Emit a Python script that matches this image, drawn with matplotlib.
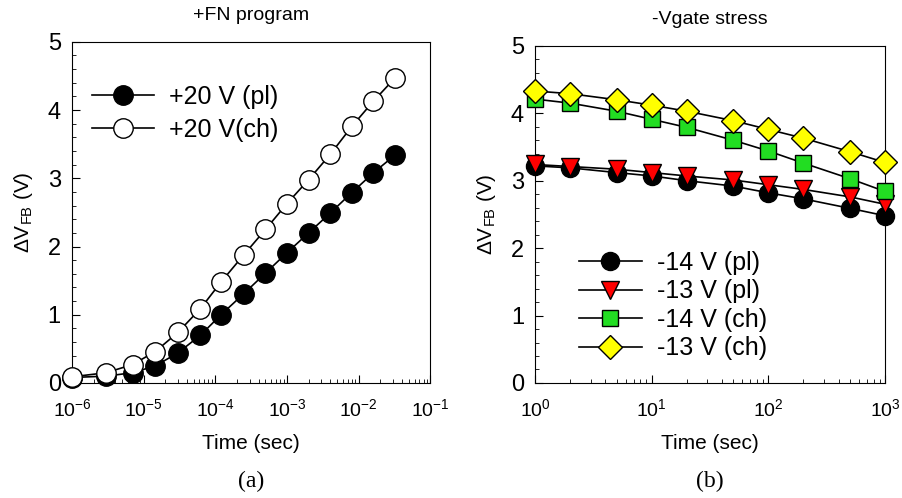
import matplotlib
matplotlib.use("Agg")
import matplotlib.pyplot as plt
from matplotlib.ticker import MultipleLocator, LogLocator, NullFormatter

plt.rcParams["font.family"] = ["Liberation Sans", "DejaVu Sans"]
plt.rcParams["mathtext.fontset"] = "custom"
plt.rcParams["mathtext.rm"] = "Liberation Sans"
plt.rcParams["mathtext.default"] = "regular"

# (a) +FN program
t_a = [1e-6, 3e-6, 7e-6, 1.45e-5, 3e-5, 6.2e-5, 1.2e-4, 2.5e-4, 5e-4, 1e-3,
       2e-3, 4e-3, 8e-3, 1.6e-2, 3.2e-2]
pl_20 = [0.08, 0.10, 0.15, 0.25, 0.44, 0.70, 1.00, 1.31, 1.61, 1.91,
         2.20, 2.49, 2.79, 3.08, 3.34]
ch_20 = [0.09, 0.15, 0.27, 0.46, 0.74, 1.09, 1.48, 1.88, 2.25, 2.63,
         2.98, 3.35, 3.76, 4.13, 4.47]

# (b) -Vgate stress
t_b = [1, 2, 5, 10, 20, 50, 100, 200, 500, 1000]
pl_14 = [3.22, 3.19, 3.12, 3.07, 3.00, 2.92, 2.82, 2.73, 2.59, 2.48]
pl_13 = [3.24, 3.21, 3.17, 3.12, 3.07, 3.01, 2.94, 2.87, 2.76, 2.65]
ch_14 = [4.21, 4.15, 4.03, 3.91, 3.79, 3.60, 3.44, 3.26, 3.03, 2.84]
ch_13 = [4.33, 4.29, 4.20, 4.12, 4.03, 3.89, 3.76, 3.63, 3.43, 3.27]

fig = plt.figure(figsize=(9.03, 4.98), dpi=100)
ax1 = fig.add_axes([0.0797, 0.231, 0.397, 0.685])
ax2 = fig.add_axes([0.5925, 0.231, 0.3876, 0.677])

ylab = r"$\Delta$V$_{FB}$ (V)"

ax1.plot(t_a, pl_20, "-o", color="black", mfc="black", mec="black", ms=14,
         lw=1.2, label="+20 V (pl)", clip_on=False, zorder=3)
ax1.plot(t_a, ch_20, "-o", color="black", mfc="white", mec="black", ms=14,
         lw=1.2, label="+20 V(ch)", clip_on=False, zorder=3)
ax1.set_xscale("log")
ax1.set_xlim(1e-6, 1e-1)
ax1.set_title("+FN program", fontsize=14, pad=16)
ax1.legend(loc="upper left", bbox_to_anchor=(0.02, 0.91), frameon=False,
           fontsize=18, handlelength=2.5, handletextpad=0.6, labelspacing=0.35,
           borderpad=0)

ax2.plot(t_b, pl_14, "-o", color="black", mfc="black", mec="black", ms=13,
         lw=1.2, label="-14 V (pl)", clip_on=False, zorder=3)
ax2.plot(t_b, pl_13, "-v", color="black", mfc="red", mec="black", ms=13,
         lw=1.2, label="-13 V (pl)", clip_on=False, zorder=3)
ax2.plot(t_b, ch_14, "-s", color="black", mfc="#22dd22", mec="black", ms=12,
         lw=1.2, label="-14 V (ch)", clip_on=False, zorder=3)
ax2.plot(t_b, ch_13, "-D", color="black", mfc="yellow", mec="black", ms=12,
         lw=1.2, label="-13 V (ch)", clip_on=False, zorder=4)
ax2.set_xscale("log")
ax2.set_xlim(1, 1000)
ax2.set_title("-Vgate stress", fontsize=14, pad=16)
ax2.legend(loc="lower left", bbox_to_anchor=(0.09, 0.03), frameon=False,
           fontsize=18, handlelength=2.5, handletextpad=0.6, labelspacing=0.18,
           borderpad=0)

for ax in (ax1, ax2):
    ax.set_ylim(0, 5)
    ax.yaxis.set_major_locator(MultipleLocator(1))
    ax.yaxis.set_minor_locator(MultipleLocator(0.2))
    ax.xaxis.set_minor_locator(LogLocator(base=10, subs=range(2, 10), numticks=20))
    ax.xaxis.set_minor_formatter(NullFormatter())
    ax.tick_params(which="both", direction="in", top=False, right=False)
    ax.tick_params(which="major", length=6, labelsize=14)
    ax.tick_params(axis="x", which="major", pad=11)
    ax.tick_params(axis="y", which="major", labelsize=17, pad=8)
    ax.tick_params(which="minor", length=3)
    ax.set_xlabel("Time (sec)", fontsize=15, labelpad=10)
    ax.set_ylabel(ylab, fontsize=15, labelpad=9)

fig.text(0.278, 0.022, "(a)", fontsize=17, family="Liberation Serif", ha="center")
fig.text(0.786, 0.022, "(b)", fontsize=17, family="Liberation Serif", ha="center")

fig.savefig("out.png", dpi=100)
